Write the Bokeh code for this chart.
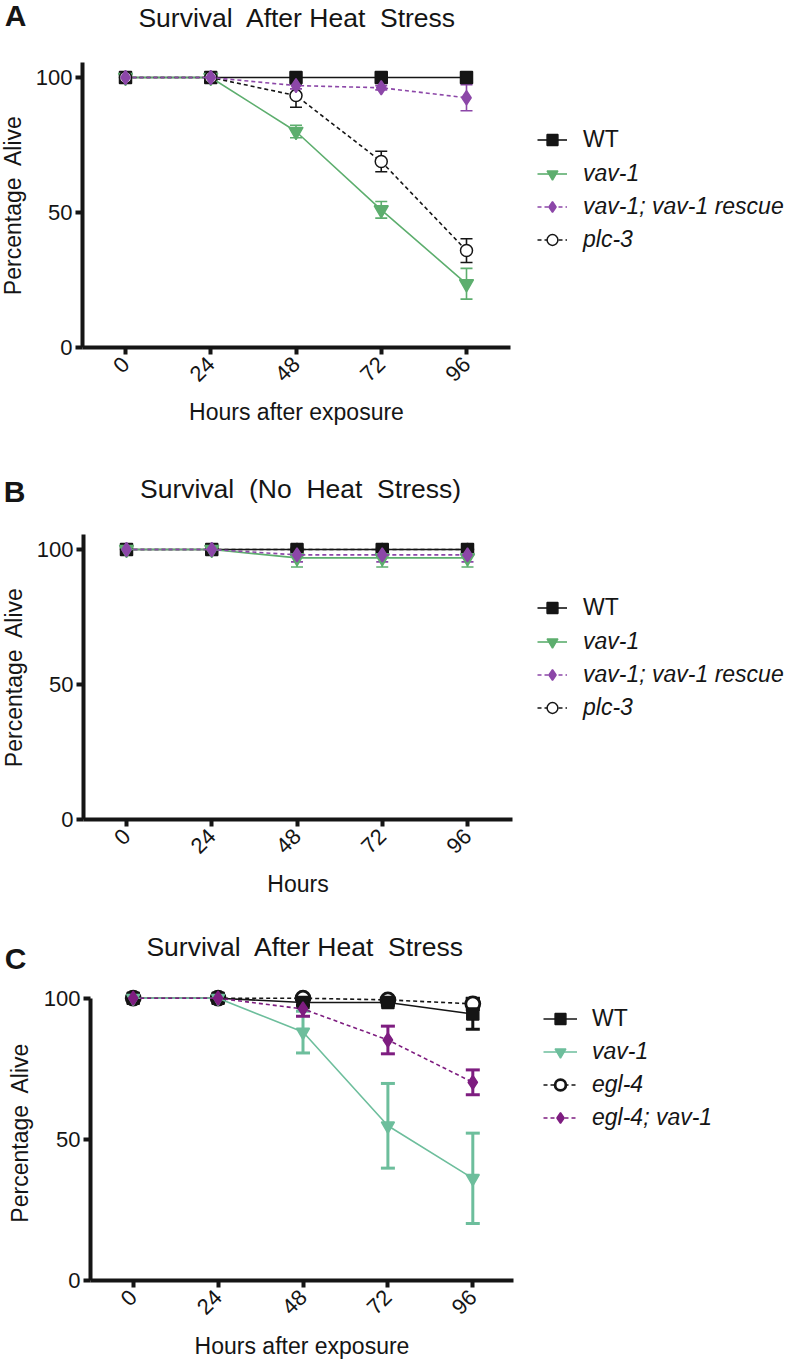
import math
from bokeh.plotting import figure
from bokeh.models import (Range1d, FixedTicker, Label, Legend, LegendItem,
                          Whisker, TeeHead, ColumnDataSource)
from bokeh.layouts import column, row
from bokeh.embed import file_html
from bokeh.resources import INLINE

# ---------------- data ----------------
hours = [0, 24, 48, 72, 96]
hour_ticks = [0, 24, 48, 72, 96]
pct_ticks = [0, 50, 100]

# Panel A: survival after heat stress
a_title = "Survival\u00a0 After Heat\u00a0 Stress"
a_xlabel = "Hours after exposure"
a_names = ["WT", "vav-1", "vav-1; vav-1 rescue", "plc-3"]
a_wt = [100, 100, 100, 100, 100]
a_wt_err = [0, 0, 0, 0, 0]
a_vav1 = [100, 100, 80.0, 51.0, 23.6]
a_vav1_err = [0, 0, 2.3, 3.1, 5.7]
a_rescue = [100, 100, 97.0, 96.2, 92.5]
a_rescue_err = [0, 0, 1.2, 0.8, 4.8]
a_plc3 = [100, 100, 93.3, 68.9, 35.9]
a_plc3_err = [0, 0, 4.3, 3.8, 4.4]

# Panel B: no heat stress
b_title = "Survival\u00a0 (No\u00a0 Heat\u00a0 Stress)"
b_xlabel = "Hours"
b_names = ["WT", "vav-1", "vav-1; vav-1 rescue", "plc-3"]
b_wt = [100, 100, 100, 100, 100]
b_wt_err = [0, 0, 0, 0, 0]
b_vav1 = [100, 100, 96.9, 96.9, 96.9]
b_vav1_err = [0, 0, 3.4, 3.4, 3.4]
b_rescue = [100, 100, 98.0, 98.0, 98.0]
b_rescue_err = [0, 0, 2.6, 2.6, 2.6]
b_plc3 = [100, 100, 100, 100, 100]
b_plc3_err = [0, 0, 0, 0, 0]

# Panel C: survival after heat stress, egl-4
c_title = "Survival\u00a0 After Heat\u00a0 Stress"
c_xlabel = "Hours after exposure"
c_names = ["WT", "vav-1", "egl-4", "egl-4; vav-1"]
c_wt = [100, 100, 98.5, 98.5, 94.4]
c_wt_err = [0, 0, 1.0, 1.0, 5.4]
c_vav1 = [100, 100, 88.0, 54.8, 36.2]
c_vav1_err = [0, 0, 7.4, 15.0, 16.0]
c_egl4 = [100, 100, 100, 99.4, 98.0]
c_egl4_err = [0, 0, 0, 0.6, 2.0]
c_egl4vav1 = [100, 100, 96.2, 85.2, 70.2]
c_egl4vav1_err = [0, 0, 2.6, 4.9, 4.4]

ylabel = "Percentage\u00a0 Alive"

# ---------------- style ----------------
FONT = "Liberation Sans"
INK = "#151515"
GREEN_A = "#5dae6e"
PURPLE_A = "#8c47a8"
GREEN_C = "#6dbe9c"
PURPLE_C = "#7e1d80"
PAGE_W = 789


def base_fig(**kw):
    return figure(output_backend="svg", toolbar_location=None,
                  outline_line_color=None, background_fill_color="white",
                  border_fill_color="white", **kw)


def label(f, x, y, txt, size, style="normal", angle=0.0):
    f.add_layout(Label(x=x, y=y, text=txt, text_font=FONT, text_font_size=size,
                       text_font_style=style, text_color=INK,
                       text_align="center", text_baseline="middle", angle=angle))


def make_panel(hdr_top, body_top, body_bot, fl, fr, x0, x96, y0, y100, ftop,
               letter, letter_xy, title, title_xy, ylab_x, ylab_w, xlabel, xlab_standoff,
               series, legend_order, names, glyph_x, glyph_w, standoff,
               wt_cy, it_cy, ybounds=None):
    # header: panel letter and title (data coordinates = page pixels)
    hdr = base_fig(width=PAGE_W, height=int(body_top - hdr_top),
                   x_range=Range1d(0, PAGE_W), y_range=Range1d(body_top, hdr_top),
                   x_axis_type=None, y_axis_type=None, min_border=0)
    label(hdr, letter_xy[0], letter_xy[1], letter, "30px", "bold")
    label(hdr, title_xy[0], title_xy[1], title, "26.5px")

    bt = int(round(ftop - body_top))
    bb = int(round(body_bot - y0))
    H = int(body_bot - body_top)

    # y-axis title strip (same vertical frame as the plot)
    ylf = base_fig(width=ylab_w, height=H, x_range=Range1d(0, ylab_w), y_range=Range1d(0, 1),
                   x_axis_type=None, y_axis_type=None,
                   min_border_left=0, min_border_right=0,
                   min_border_top=bt, min_border_bottom=bb)
    label(ylf, ylab_x, 0.5, ylabel, "23px", angle=math.pi / 2)

    # main plot
    main_r = fr + 10
    sx = (x96 - x0) / 96.0
    sy = (y0 - y100) / 100.0
    p = base_fig(width=int(main_r - ylab_w), height=H,
                 x_range=Range1d((fl - x0) / sx, (fr - x0) / sx),
                 y_range=Range1d(0, (y0 - ftop) / sy),
                 min_border_left=int(fl - ylab_w), min_border_right=int(main_r - fr),
                 min_border_top=bt, min_border_bottom=bb)
    p.xgrid.visible = False
    p.ygrid.visible = False
    for ax in (p.xaxis[0], p.yaxis[0]):
        ax.axis_line_width = 4
        ax.axis_line_color = INK
        ax.major_tick_line_width = 4
        ax.major_tick_line_color = INK
        ax.major_tick_in = 0
        ax.major_tick_out = 7
        ax.minor_tick_line_color = None
        ax.major_label_text_font = FONT
        ax.major_label_text_font_size = "22px"
        ax.major_label_text_color = INK
    p.xaxis.ticker = FixedTicker(ticks=hour_ticks)
    p.yaxis.ticker = FixedTicker(ticks=pct_ticks)
    p.xaxis.major_label_orientation = math.pi / 4
    p.xaxis.major_label_standoff = 6
    p.yaxis.major_label_standoff = 3
    p.xaxis.axis_label = xlabel
    p.xaxis.axis_label_text_font = FONT
    p.xaxis.axis_label_text_font_size = "23px"
    p.xaxis.axis_label_text_font_style = "normal"
    p.xaxis.axis_label_text_color = INK
    p.xaxis.axis_label_standoff = xlab_standoff
    if ybounds is not None:
        p.yaxis.bounds = ybounds

    # legend figure: same vertical frame as the main plot, data coords = page pixels
    lgf = base_fig(width=int(PAGE_W - main_r), height=H,
                   x_range=Range1d(main_r, PAGE_W), y_range=Range1d(y0, ftop),
                   x_axis_type=None, y_axis_type=None,
                   min_border_left=0, min_border_right=0,
                   min_border_top=bt, min_border_bottom=bb)

    for s in series:
        y, err, color, marker, size, dash, fill, mlw, wlw, cap = s
        xs = [h for h, e in zip(hours, err) if e > 0]
        if xs:
            wsrc = ColumnDataSource(dict(
                x=xs,
                upper=[v + e for v, e in zip(y, err) if e > 0],
                lower=[v - e for v, e in zip(y, err) if e > 0]))
            p.add_layout(Whisker(source=wsrc, base="x", upper="upper", lower="lower",
                                 line_color=color, line_width=wlw,
                                 upper_head=TeeHead(size=cap, line_color=color, line_width=wlw),
                                 lower_head=TeeHead(size=cap, line_color=color, line_width=wlw)))
    rends = []
    for s in series:
        y, err, color, marker, size, dash, fill, mlw, wlw, cap = s
        src = ColumnDataSource(dict(x=hours, y=y))
        p.line("x", "y", source=src, line_color=color, line_width=1.6, line_dash=dash)
        p.scatter("x", "y", source=src, marker=marker, size=size,
                  fill_color=fill, line_color=color, line_width=mlw)
        # proxies for the legend (their data lie outside the legend figure's range)
        l2 = lgf.line("x", "y", source=src, line_color=color, line_width=1.6, line_dash=dash)
        s2 = lgf.scatter("x", "y", source=src, marker=marker, size=size,
                         fill_color=fill, line_color=color, line_width=mlw)
        rends.append([l2, s2])

    gh = 27
    sp = 6
    common = dict(label_text_font=FONT, label_text_font_size="23px",
                  label_text_color=INK, glyph_width=glyph_w, glyph_height=gh,
                  label_standoff=standoff, spacing=sp, padding=0, margin=0,
                  border_line_color=None, background_fill_alpha=0,
                  orientation="vertical")
    vx = glyph_x - main_r
    h1 = gh
    h2 = 3 * gh + 2 * sp
    lg1 = Legend(items=[LegendItem(label=names[0], renderers=rends[legend_order[0]])],
                 location=(vx, y0 - (wt_cy - gh / 2.0 + h1)),
                 label_text_font_style="normal", **common)
    lg2 = Legend(items=[LegendItem(label=names[k + 1], renderers=rends[i])
                        for k, i in enumerate(legend_order[1:])],
                 location=(vx, y0 - (it_cy - gh / 2.0 + h2)),
                 label_text_font_style="italic", **common)
    lgf.add_layout(lg1)
    lgf.add_layout(lg2)

    return [hdr, row(ylf, p, lgf, spacing=0)]


# series spec: values, errors, color, marker, size, dash, fill, marker line, whisker width, cap
A = make_panel(
    hdr_top=0, body_top=58, body_bot=460, fl=82, fr=510, x0=125, x96=466, y0=347, y100=77, ftop=62,
    letter="A", letter_xy=(15, 15), title=a_title, title_xy=(297, 17), ylab_x=12, ylab_w=30,
    xlabel=a_xlabel, xlab_standoff=8,
    series=[
        (a_wt, a_wt_err, INK, "square", 12, "solid", INK, 1.5, 1.6, 12),
        (a_vav1, a_vav1_err, GREEN_A, "inverted_triangle", 14, "solid", GREEN_A, 1.5, 1.6, 12),
        (a_plc3, a_plc3_err, INK, "circle", 12, "4 3", "white", 1.5, 1.6, 12),
        (a_rescue, a_rescue_err, PURPLE_A, "diamond", 14, "4 3", PURPLE_A, 1.5, 1.6, 12),
    ],
    legend_order=[0, 1, 3, 2], names=a_names, glyph_x=537, glyph_w=30, standoff=16,
    wt_cy=139, it_cy=173)

B = make_panel(
    hdr_top=460, body_top=530, body_bot=905, fl=83, fr=512, x0=126, x96=467, y0=819, y100=549, ftop=534,
    letter="B", letter_xy=(14, 491), title=b_title, title_xy=(300, 488), ylab_x=13, ylab_w=30,
    xlabel=b_xlabel, xlab_standoff=8,
    series=[
        (b_plc3, b_plc3_err, INK, "circle", 12, "4 3", "white", 1.5, 1.6, 12),
        (b_wt, b_wt_err, INK, "square", 12, "solid", INK, 1.5, 1.6, 12),
        (b_vav1, b_vav1_err, GREEN_A, "inverted_triangle", 14, "solid", GREEN_A, 1.5, 1.6, 12),
        (b_rescue, b_rescue_err, PURPLE_A, "diamond", 14, "4 3", PURPLE_A, 1.5, 1.6, 12),
    ],
    legend_order=[1, 2, 3, 0], names=b_names, glyph_x=537, glyph_w=30, standoff=16,
    wt_cy=607, it_cy=641)

C = make_panel(
    hdr_top=905, body_top=980, body_bot=1363, fl=90, fr=513, x0=132.7, x96=472.3, y0=1280,
    y100=997.7, ftop=984,
    letter="C", letter_xy=(15, 958), title=c_title, title_xy=(305, 946), ylab_x=19, ylab_w=38,
    xlabel=c_xlabel, xlab_standoff=9,
    series=[
        (c_egl4, c_egl4_err, INK, "circle", 14, "4 3", "white", 2.8, 3, 14),
        (c_wt, c_wt_err, INK, "square", 12, "solid", INK, 1.5, 3, 14),
        (c_vav1, c_vav1_err, GREEN_C, "inverted_triangle", 13, "solid", GREEN_C, 1.5, 3, 14),
        (c_egl4vav1, c_egl4vav1_err, PURPLE_C, "diamond", 14, "4 3", PURPLE_C, 1.5, 3, 14),
    ],
    legend_order=[1, 2, 0, 3], names=c_names, glyph_x=543, glyph_w=34, standoff=15,
    wt_cy=1018, it_cy=1051, ybounds=(0, 100))

layout = column(*(A + B + C), spacing=0)
open("out.html", "w").write(file_html(layout, INLINE))
